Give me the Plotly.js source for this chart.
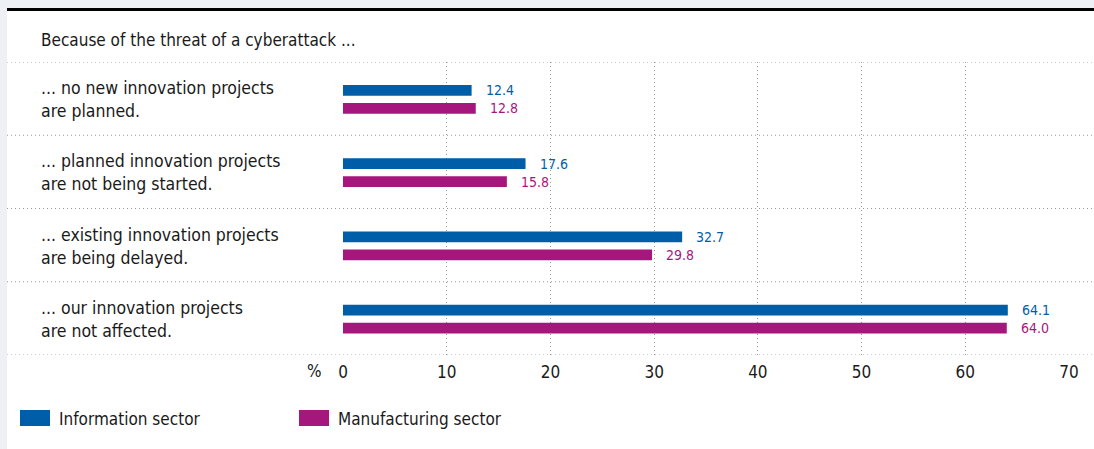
<!DOCTYPE html>
<html><head><meta charset="utf-8">
<script src="https://cdn.plot.ly/plotly-3.0.1.min.js"></script>
<style>
html,body{margin:0;padding:0;background:#edf1f5;width:1094px;height:449px;overflow:hidden;}
#panel{position:absolute;left:7px;top:8px;width:1087px;height:438px;background:#fff;border-top:3px solid #000;}
#chart{position:absolute;left:0;top:0;width:1094px;height:449px;}
</style></head>
<body><div id="panel"></div><div id="chart"></div>
<script>
const header = "Because of the threat of a cyberattack ...";
const categories = [
  "... no new innovation projects<br>are planned.",
  "... planned innovation projects<br>are not being started.",
  "... existing innovation projects<br>are being delayed.",
  "... our innovation projects<br>are not affected."
];
const seriesNames = ["Information sector", "Manufacturing sector"];
const informationSector = [12.4, 17.6, 32.7, 64.1];
const manufacturingSector = [12.8, 15.8, 29.8, 64.0];
const xTicks = [0, 10, 20, 30, 40, 50, 60, 70];
const unitLabel = "%";

const colors = ["#005ea8", "#a6177e"];
const FONT = "'Liberation Sans Narrow', 'DejaVu Sans Condensed', 'Roboto', sans-serif";
const series = [informationSector, manufacturingSector];
const idx = categories.map((c, i) => i);
const barW = 0.147, barOff = [-0.186, 0.059];

const L = 343, R = 1069, T = 62, B = 355, W = 1094, H = 449;
const pw = R - L, ph = B - T;
const px = x => (x - L) / pw;
const py = y => (B - y) / ph;

const traces = series.map((vals, s) => ({
  type: 'bar', orientation: 'h', x: vals, y: idx,
  width: barW, offset: barOff[s], marker: {color: colors[s]},
  name: seriesNames[s], hoverinfo: 'x', showlegend: false
}));

const annotations = [];
const shapes = [];
annotations.push({xref: 'paper', yref: 'paper', x: px(39), y: py(40), xanchor: 'left', yanchor: 'middle',
  text: header, showarrow: false, font: {family: FONT, size: 17, color: '#1a1a1a'}});
categories.forEach((c, i) => {
  annotations.push({xref: 'paper', yref: 'y', x: px(39), y: i, yshift: -1, xanchor: 'left', yanchor: 'middle', align: 'left',
    text: c, showarrow: false, font: {family: FONT, size: 17.5, color: '#1a1a1a'}});
});
series.forEach((vals, s) => vals.forEach((v, i) => {
  annotations.push({xref: 'x', yref: 'y', x: v, y: i + barOff[s] + barW / 2, xanchor: 'left', yanchor: 'middle',
    xshift: 12, text: v.toFixed(1), showarrow: false, font: {family: FONT, size: 14, color: colors[s]}});
}));
annotations.push({xref: 'paper', yref: 'paper', x: px(324), y: py(371), xanchor: 'right', yanchor: 'middle',
  text: unitLabel, showarrow: false, font: {family: FONT, size: 17, color: '#1a1a1a'}});
// separators
for (let k = 0; k <= categories.length; k++) {
  shapes.push({type: 'line', xref: 'paper', yref: 'y', x0: px(7), x1: px(1094), y0: k - 0.5, y1: k - 0.5,
    line: {color: '#9a9a9a', width: 1, dash: '1px,3px'}});
}
// legend
const legX = [20, 299];
seriesNames.forEach((n, s) => {
  shapes.push({type: 'rect', xref: 'paper', yref: 'paper', x0: px(legX[s]), x1: px(legX[s] + 30),
    y0: py(426), y1: py(410), fillcolor: colors[s], line: {width: 0}});
  annotations.push({xref: 'paper', yref: 'paper', x: px(legX[s] + 37), y: py(419), xanchor: 'left', yanchor: 'middle',
    text: n, showarrow: false, font: {family: FONT, size: 17, color: '#1a1a1a'}});
});

const layout = {
  width: W, height: H, margin: {l: L, r: W - R, t: T, b: H - B, pad: 0},
  paper_bgcolor: 'rgba(0,0,0,0)', plot_bgcolor: 'rgba(0,0,0,0)',
  barmode: 'overlay', showlegend: false,
  xaxis: {range: [0, 70], tickvals: xTicks, showgrid: true, gridcolor: '#9a9a9a', griddash: '1px,3px', gridwidth: 1,
    zeroline: false, showline: false, ticks: '', ticklabelstandoff: 5,
    tickfont: {family: FONT, size: 17, color: '#1a1a1a'}, fixedrange: true},
  yaxis: {range: [categories.length - 0.5, -0.5], showticklabels: false, showgrid: false, zeroline: false, ticks: '', fixedrange: true},
  annotations, shapes
};
Plotly.newPlot('chart', traces, layout, {displayModeBar: false, staticPlot: true});
</script></body></html>
